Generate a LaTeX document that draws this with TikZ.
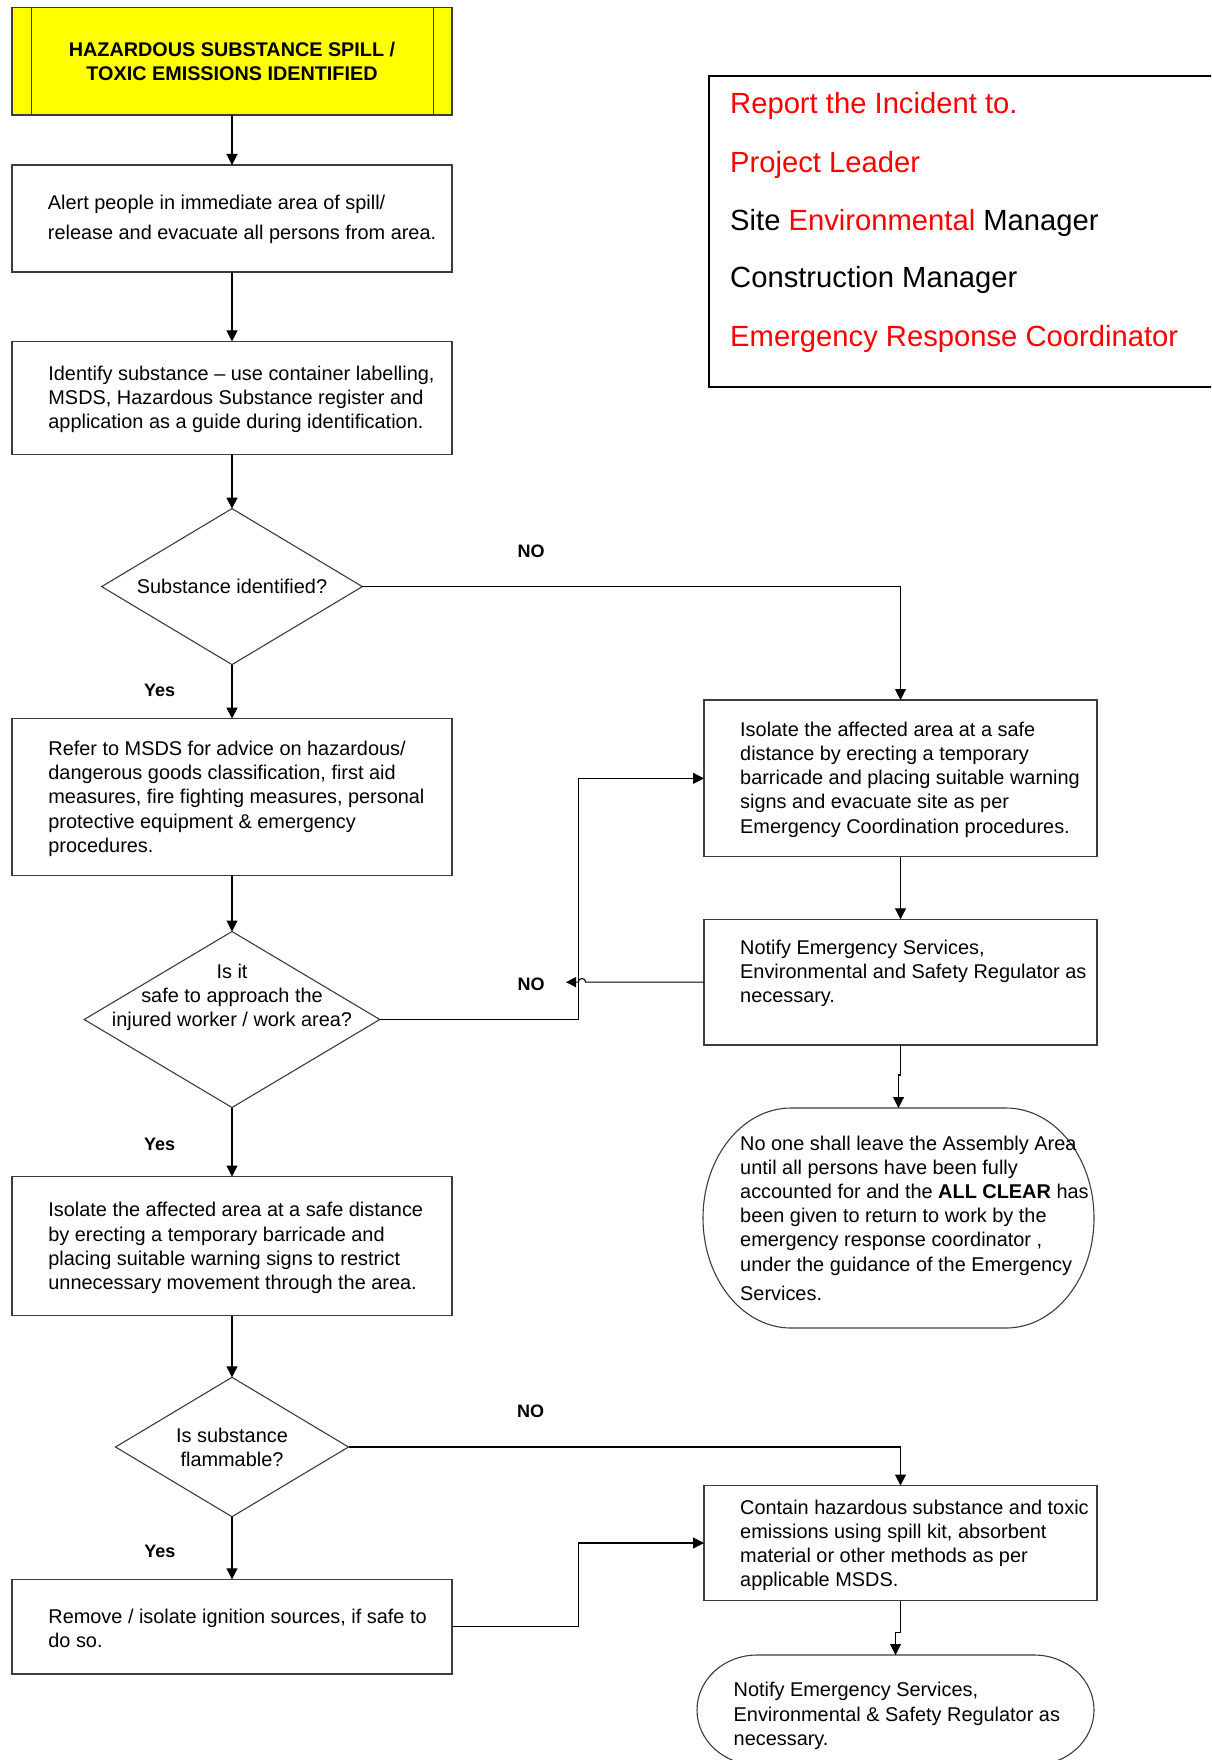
\documentclass[tikz,border=0pt]{standalone}
\usepackage{fontspec}
\setmainfont{Liberation Sans}
\usetikzlibrary{arrows.meta,shapes.geometric}
\definecolor{boxgray}{RGB}{60,60,60}
\definecolor{repred}{RGB}{255,0,0}
\definecolor{titleyellow}{RGB}{255,255,0}
\newcommand\mystadium[3]{%
  \draw[boxline] ([xshift=#2]#1.north west) -- ([xshift=-#2]#1.north east)
    arc[start angle=90,end angle=-90,x radius=#2,y radius=#3]
    -- ([xshift=#2]#1.south west)
    arc[start angle=270,end angle=90,x radius=#2,y radius=#3] -- cycle;}
\tikzset{
  boxline/.style={draw=boxgray, line width=1.1pt},
  box/.style={rectangle, boxline, inner sep=0pt, outer sep=0pt},
  ghost/.style={rectangle, inner sep=0pt, outer sep=0pt},
  dia/.style={diamond, boxline, inner sep=0pt, outer sep=0pt},
  txt/.style={align=left, inner sep=0pt, anchor=west, font=\fontsize{19.9}{24.2}\selectfont},
  ctxt/.style={align=center, inner sep=0pt, font=\fontsize{19.9}{24.2}\selectfont},
  lbl/.style={inner sep=0pt, font=\bfseries\fontsize{18}{20}\selectfont},
  reptxt/.style={inner sep=0pt, anchor=base west, font=\fontsize{29.2}{34}\selectfont},
  conn/.style={draw=black, line width=1.1pt, -{Triangle[length=11pt,width=11pt]}}
}
\begin{document}
\begin{tikzpicture}[x=1pt,y=1pt]
\useasboundingbox (0,0) rectangle (1211,-1760);
\fill[white] (0,0) rectangle (1211,-1760);
\clip (0,0) rectangle (1211,-1760);

% ---------- left column ----------
\node[box, fill=titleyellow, minimum width=440pt, minimum height=107.5pt,
      align=center, font=\bfseries\fontsize{19.8}{23.4}\selectfont] (title) at (232,-61.25)
      {HAZARDOUS SUBSTANCE SPILL /\\TOXIC EMISSIONS IDENTIFIED};
\draw[boxline] ([xshift=19.5pt]title.north west) -- ([xshift=19.5pt]title.south west);
\draw[boxline] ([xshift=-18.5pt]title.north east) -- ([xshift=-18.5pt]title.south east);

\node[box, minimum width=440pt, minimum height=107pt] (alert) at (232,-218.5) {};
\node[txt, font=\fontsize{19.9}{29.7}\selectfont] (alertT) at (47.7,-219.4)
  {Alert people in immediate area of spill/\\release and evacuate all persons from area.};

\node[box, minimum width=440pt, minimum height=112.9pt] (ident) at (232,-397.85) {};
\node[txt] (identT) at (48.2,-399.5)
  {Identify substance -- use container labelling,\\MSDS, Hazardous Substance register and\\application as a guide during identification.};

\node[dia, minimum width=260.7pt, minimum height=156pt] (d1) at (232,-586.6) {};
\node[ctxt] (d1T) at (232,-586.3) {Substance identified?};

\node[box, minimum width=440pt, minimum height=156.8pt] (refer) at (232,-797) {};
\node[txt] (referT) at (48.2,-798.8)
  {Refer to MSDS for advice on hazardous/\\dangerous goods classification, first aid\\measures, fire fighting measures, personal\\protective equipment \& emergency\\procedures.};

\node[dia, minimum width=295.6pt, minimum height=176pt] (d2) at (232,-1019.5) {};
\node[ctxt] (d2T) at (232,-997.4) {Is it\\safe to approach the\\injured worker / work area?};

\node[box, minimum width=440pt, minimum height=139.2pt] (isoL) at (232,-1246.1) {};
\node[txt] (isoLT) at (48.2,-1248)
  {Isolate the affected area at a safe distance\\by erecting a temporary barricade and\\placing suitable warning signs to restrict\\unnecessary movement through the area.};

\node[dia, minimum width=233pt, minimum height=139.4pt] (d3) at (232,-1447) {};
\node[ctxt] (d3T) at (232,-1447) {Is substance\\flammable?};

\node[box, minimum width=440pt, minimum height=94.7pt] (remove) at (232,-1626.65) {};
\node[txt] (removeT) at (48.2,-1628.5)
  {Remove / isolate ignition sources, if safe to\\do so.};

% ---------- right column ----------
\node[draw=black, line width=2.2pt, inner sep=0pt, minimum width=521.3pt, minimum height=311.3pt]
  (report) at (969.35,-231.65) {};
\node[reptxt, text=repred] (r1) at (730,-114) {Report the Incident to.};
\node[reptxt, text=repred] (r2) at (730,-172.5) {Project Leader};
\node[reptxt] (r3) at (730,-230.5) {Site \textcolor{repred}{Environmental} Manager};
\node[reptxt] (r4) at (730,-288) {Construction Manager};
\node[reptxt, text=repred] (r5) at (730,-346) {Emergency Response Coordinator};

\node[box, minimum width=393pt, minimum height=156.7pt] (isoR) at (900.5,-778.35) {};
\node[txt] (isoRT) at (740,-779.6)
  {Isolate the affected area at a safe\\distance by erecting a temporary\\barricade and placing suitable warning\\signs and evacuate site as per\\Emergency Coordination procedures.};

\node[box, minimum width=393pt, minimum height=125.7pt] (notify) at (900.5,-982.15) {};
\node[txt] (notifyT) at (740,-973.4)
  {Notify Emergency Services,\\Environmental and Safety Regulator as\\necessary.};

\node[ghost, minimum width=391pt, minimum height=220pt] (term1) at (898.5,-1218) {};
\mystadium{term1}{88pt}{110pt}
\node[txt] (term1T) at (740,-1218)
  {No one shall leave the Assembly Area\\until all persons have been fully\\accounted for and the \textbf{ALL CLEAR} has\\been given to return to work by the\\emergency response coordinator ,\\under the guidance of the Emergency\\[5pt]Services.};

\node[box, minimum width=393pt, minimum height=115pt] (contain) at (900.5,-1543) {};
\node[txt] (containT) at (740,-1545.2)
  {Contain hazardous substance and toxic\\emissions using spill kit, absorbent\\material or other methods as per\\applicable MSDS.};

\node[ghost, minimum width=397pt, minimum height=110pt] (term2) at (895.5,-1710) {};
\mystadium{term2}{60pt}{55pt}
\node[txt] (term2T) at (733.5,-1716)
  {Notify Emergency Services,\\Environmental \& Safety Regulator as\\necessary.};

% ---------- labels ----------
\node[lbl] (no1) at (531,-551.4) {NO};
\node[lbl] (no2) at (531,-984.5) {NO};
\node[lbl] (no3) at (530.5,-1411.7) {NO};
\node[lbl] (yes1) at (159.7,-690) {Yes};
\node[lbl] (yes2) at (159.7,-1144.5) {Yes};
\node[lbl] (yes3) at (159.8,-1551) {Yes};

% ---------- connectors ----------
\coordinate (jx) at (578.3,-900);
\coordinate (hopend) at (566,-982.15);

\draw[conn] (title.south) -- (alert.north);
\draw[conn] (alert.south) -- (ident.north);
\draw[conn] (ident.south) -- (d1.north);
\draw[conn] (d1.east) -| (isoR.north);
\draw[conn] (d1.south) -- (refer.north);
\draw[conn] (refer.south) -- (d2.north);
\draw[conn] (d2.east) -- (jx |- d2.east) |- (isoR.west);
\draw[conn] (isoR.south) -- (notify.north);
\draw[conn, -{Triangle[length=10pt,width=10pt]}] (notify.west) -- ([xshift=7.4pt]jx |- notify.west)
   arc[start angle=0,end angle=180,radius=3.7pt] -- (hopend);
\draw[conn] (notify.south) -- ++(0,-30) -| (term1.north);
\draw[conn] (d2.south) -- (isoL.north);
\draw[conn] (isoL.south) -- (d3.north);
\draw[conn] (d3.east) -| (contain.north);
\draw[conn] (d3.south) -- (remove.north);
\draw[conn] (remove.east) -- (jx |- remove.east) |- (contain.west);
\draw[conn] (contain.south) -- ++(0,-31.9) -| (term2.north);
\end{tikzpicture}
\end{document}
